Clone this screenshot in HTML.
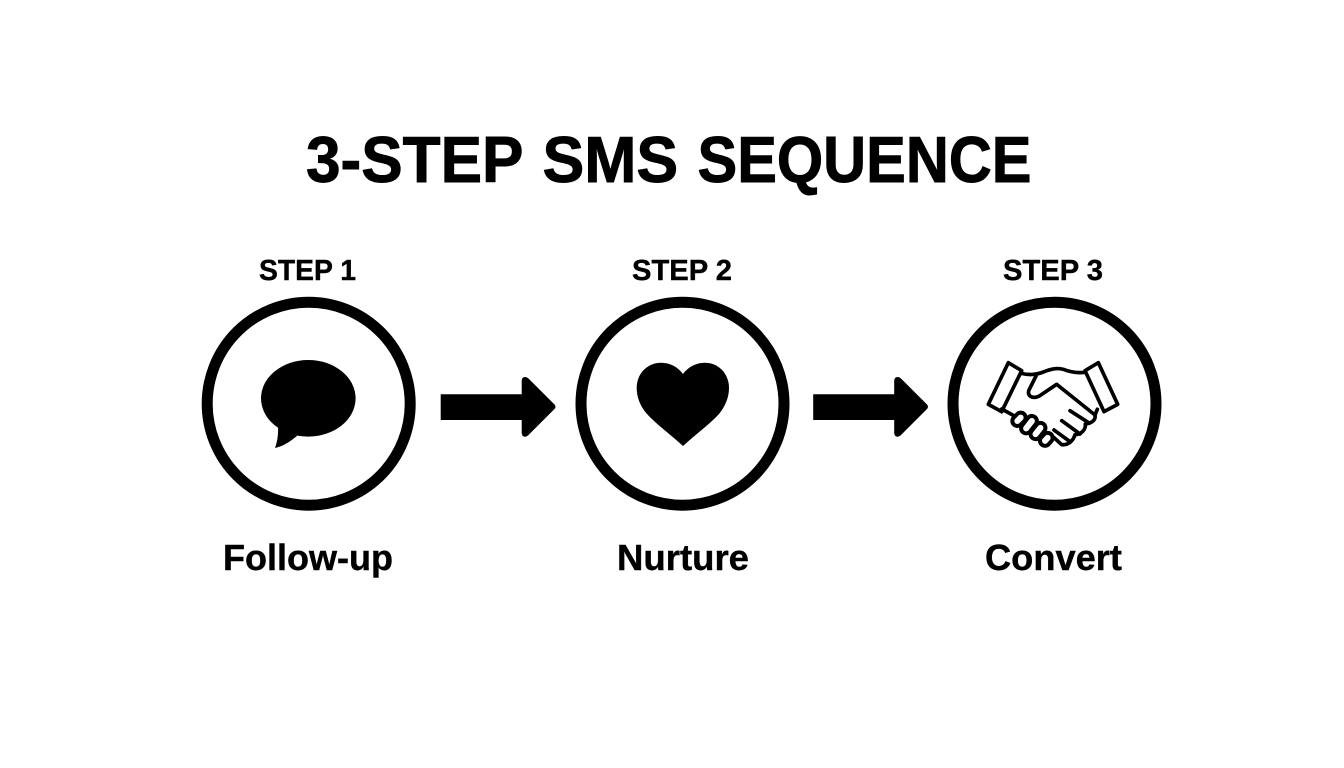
<!DOCTYPE html>
<html>
<head>
<meta charset="utf-8">
<style>
html,body{margin:0;padding:0;background:#fff;width:1344px;height:768px;overflow:hidden}
svg{display:block}
text{font-family:"Liberation Sans",sans-serif;font-weight:700;fill:#000;stroke:#000;stroke-width:.4}
</style>
</head>
<body>
<svg width="1344" height="768" viewBox="0 0 1344 768" xmlns="http://www.w3.org/2000/svg">
<rect width="1344" height="768" fill="#fff"/>
<text x="306" y="182" font-size="65" textLength="217.500" lengthAdjust="spacingAndGlyphs" style="stroke-width:.9">3-STEP</text>
<text x="542.500" y="182" font-size="65" textLength="135.700" lengthAdjust="spacingAndGlyphs" style="stroke-width:.9">SMS</text>
<text x="697.500" y="182" font-size="65" textLength="334" lengthAdjust="spacingAndGlyphs" style="stroke-width:.9">SEQUENCE</text>
<text x="259" y="280" font-size="29" textLength="97" lengthAdjust="spacingAndGlyphs">STEP 1</text>
<text x="632" y="280" font-size="29" textLength="100" lengthAdjust="spacingAndGlyphs">STEP 2</text>
<text x="1003" y="280" font-size="29" textLength="100" lengthAdjust="spacingAndGlyphs">STEP 3</text>
<text x="223" y="570" font-size="36" textLength="170" lengthAdjust="spacingAndGlyphs">Follow-up</text>
<text x="617" y="570" font-size="36" textLength="132" lengthAdjust="spacingAndGlyphs">Nurture</text>
<text x="985" y="570" font-size="36" textLength="137" lengthAdjust="spacingAndGlyphs">Convert</text>

<g fill="none" stroke="#000" stroke-width="11">
<circle cx="308.700" cy="403.700" r="101.500"/>
<circle cx="682.500" cy="403.700" r="101.500"/>
<circle cx="1054.500" cy="403.700" r="101.500"/>
</g>

<!-- bubble -->
<ellipse cx="308.300" cy="398.300" rx="47.300" ry="38.300" fill="#000"/>
<path d="M278 424 C278.500 434 277.500 441 275 448 C284 446 291 441 298 435 Z" fill="#000"/>

<!-- arrows -->
<path d="M440.700 394.300H521.700V380.500Q522 377 525 377Q527 377 529 379L554.500 404.500Q556.500 406.700 554.500 409L529 434.500Q527 436.700 525 436.700Q522 436.700 521.700 433V420H440.700Z" fill="#000"/>
<path d="M813.200 394.300H894.200V380.500Q894.500 377 897.500 377Q899.500 377 901.500 379L927 404.500Q929 406.700 927 409L901.500 434.500Q899.500 436.700 897.500 436.700Q894.500 436.700 894.200 433V420H813.200Z" fill="#000"/>

<!-- heart -->
<path d="M683 446 C670 434 656 424 647 414 C640 406 636.700 397 636.700 388 C636.700 373 648 362.700 661 362.700 C670 362.700 678 367 683 374 C688 367 696 362.700 705 362.700 C718 362.700 729 373 729 388 C729 397 725.500 406 719 414 C710 424 696 434 683 446 Z" fill="#000"/>

<!-- handshake -->
<g transform="translate(960 340) scale(.33333)" fill="none" stroke="#000" stroke-width="11" stroke-linejoin="round" stroke-linecap="round">
<path d="M145 68 L185 92 L125 215 L85 193 Z"/>
<path d="M415 68 L375 92 L432 215 L473 193 Z"/>
<path d="M185 100 C205 106 230 104 250 96 C270 88 290 82 310 88 C330 96 350 100 375 97"/>
<path d="M228 108 L207 150 C200 168 218 178 238 168 L290 133 L405 225"/>
<path d="M412 208 L405 225 C408 240 395 250 376 252 C378 270 362 284 345 284 C340 302 325 316 305 314 L282 293"/>
<path d="M330 212 L384 247"/>
<path d="M305 242 L360 282"/>
<path d="M282 270 L330 305"/>
<path d="M125 207 L158 225"/>
<g stroke-width="12">
<rect x="-22" y="-15" width="44" height="30" rx="15" transform="translate(177 238) rotate(-45)"/>
<rect x="-29" y="-15" width="58" height="30" rx="15" transform="translate(207 254) rotate(-52)"/>
<rect x="-27" y="-15" width="54" height="30" rx="15" transform="translate(234 273) rotate(-52)"/>
<rect x="-21" y="-15" width="42" height="30" rx="15" transform="translate(259 298) rotate(-48)"/>
</g>
</g>
</svg>
</body>
</html>
